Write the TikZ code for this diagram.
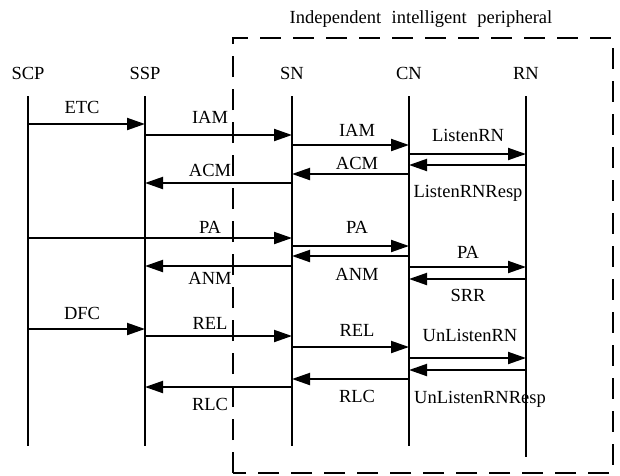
\documentclass[tikz,border=0pt]{standalone}
\usepackage{fontspec}
\setmainfont{Liberation Serif}
\usetikzlibrary{arrows.meta}
\begin{document}
\begin{tikzpicture}[x=1pt,y=-1pt,
  every node/.style={font=\fontsize{18.5}{22}\selectfont, inner sep=0pt},
  lbl/.style={anchor=base},
  life/.style={line width=1.3pt},
  msg/.style={line width=2pt, -{Triangle[length=18pt,width=12pt]}, shorten >=0pt},
  boxline/.style={line width=2pt, dash pattern=on 21pt off 12pt}
]
\useasboundingbox (0,0) rectangle (620,475);
% title and dashed region
\node[lbl] (title) at (421,23) {Independent\hspace{0.32em} intelligent\hspace{0.32em} peripheral};
\draw[boxline] (233,473) -- (233,38) -- (613,38) -- (613,473) -- cycle;
% headers
\node[lbl] (hSCP) at (28,79) {SCP};
\node[lbl] (hSSP) at (145,79) {SSP};
\node[lbl] (hSN)  at (292,79) {SN};
\node[lbl] (hCN)  at (409,79) {CN};
\node[lbl] (hRN)  at (526,79) {RN};
% lifelines
\coordinate (SCP) at (28,96);  \coordinate (SCPe) at (28,446);
\coordinate (SSP) at (145,96); \coordinate (SSPe) at (145,446);
\coordinate (SN)  at (292,96); \coordinate (SNe)  at (292,446);
\coordinate (CN)  at (409,96); \coordinate (CNe)  at (409,446);
\coordinate (RN)  at (526,96); \coordinate (RNe)  at (526,457);
\foreach \a in {SCP,SSP,SN,CN,RN} \draw[life] (\a) -- (\a e);
% messages
\draw[msg] (SCP |- 0,124) -- (SSP |- 0,124);
\draw[msg] (SSP |- 0,135) -- (SN |- 0,135);
\draw[msg] (SN |- 0,145) -- (CN |- 0,145);
\draw[msg] (CN |- 0,154) -- (RN |- 0,154);
\draw[msg] (RN |- 0,165) -- (CN |- 0,165);
\draw[msg] (CN |- 0,174) -- (SN |- 0,174);
\draw[msg] (SN |- 0,183) -- (SSP |- 0,183);
\draw[msg] (SCP |- 0,238) -- (SN |- 0,238);
\draw[msg] (SN |- 0,246) -- (CN |- 0,246);
\draw[msg] (CN |- 0,256) -- (SN |- 0,256);
\draw[msg] (SN |- 0,266) -- (SSP |- 0,266);
\draw[msg] (CN |- 0,267) -- (RN |- 0,267);
\draw[msg] (RN |- 0,279) -- (CN |- 0,279);
\draw[msg] (SCP |- 0,329) -- (SSP |- 0,329);
\draw[msg] (SSP |- 0,336) -- (SN |- 0,336);
\draw[msg] (SN |- 0,347) -- (CN |- 0,347);
\draw[msg] (CN |- 0,358) -- (RN |- 0,358);
\draw[msg] (RN |- 0,370) -- (CN |- 0,370);
\draw[msg] (CN |- 0,379) -- (SN |- 0,379);
\draw[msg] (SN |- 0,387) -- (SSP |- 0,387);
% labels
\node[lbl] (l1) at (82,113) {ETC};
\node[lbl] (l2) at (210,123) {IAM};
\node[lbl] (l3) at (357,136) {IAM};
\node[lbl] (l4) at (468,141) {ListenRN};
\node[lbl] (l5) at (468,197) {ListenRNResp};
\node[lbl] (l6) at (357,169) {ACM};
\node[lbl] (l7) at (210,176) {ACM};
\node[lbl] (l8) at (210,233) {PA};
\node[lbl] (l9) at (357,233) {PA};
\node[lbl] (l10) at (357,280) {ANM};
\node[lbl] (l11) at (210,284) {ANM};
\node[lbl] (l12) at (468,258) {PA};
\node[lbl] (l13) at (468,301) {SRR};
\node[lbl] (l14) at (82,319) {DFC};
\node[lbl] (l15) at (210,329) {REL};
\node[lbl] (l16) at (357,336) {REL};
\node[lbl] (l17) at (470,341) {UnListenRN};
\node[lbl] (l18) at (480,403) {UnListenRNResp};
\node[lbl] (l19) at (357,402) {RLC};
\node[lbl] (l20) at (210,410) {RLC};
\end{tikzpicture}
\end{document}
